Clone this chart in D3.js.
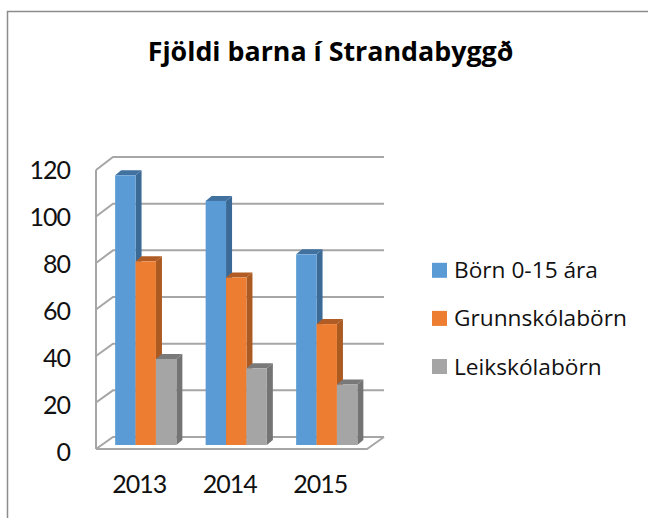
<!DOCTYPE html>
<html><head><meta charset="utf-8">
<script src="https://cdn.jsdelivr.net/npm/d3@7"></script>
<style>html,body{margin:0;padding:0;background:#fff}svg{display:block}text{font-family:Lato,"Open Sans",sans-serif;fill:#111}</style>
</head><body><svg id="c" width="648" height="518"></svg>
<script>
const title = "Fjöldi barna í Strandabyggð";
const years = ["2013","2014","2015"];
const seriesNames = ["Börn 0-15 ára","Grunnskólabörn","Leikskólabörn"];
const born = [116,105,82];
const grunn = [79,72,52];
const leik = [37,33,26];
const yTicks = [0,20,40,60,80,100,120];
const frontColors = ["#5b9bd5","#ed7d31","#a5a5a5"];
const sideColors = ["#3b6a96","#ab5a22","#747474"];
const topColors = ["#41719f","#b05c24","#797979"];

const svg = d3.select("#c");
const series = [born,grunn,leik];
const dx = 17;
const barDx = 6, barDy = 5;
const yFront = d3.scaleLinear().domain([0,120]).range([449,170]);
const yBack = d3.scaleLinear().domain([0,120]).range([437,157]);
const yLabel = d3.scaleLinear().domain([0,120]).range([452,170]);
const yBar = d3.scaleLinear().domain([0,120]).range([445,166]);
const x0 = d3.scaleBand().domain(years).range([100.5,372]);
const barW = 20.4;
const bx = (i,s) => x0(years[i]) + x0.bandwidth()/2 - 1.5*barW + s*barW;
const grid = "#a6a6a6";

svg.append("path").attr("d","M7.5,518V11.5H648").attr("fill","none").attr("stroke","#8c8c8c").attr("stroke-width",1.5);
svg.append("text").attr("x",330.5).attr("y",61).attr("text-anchor","middle")
  .style("font-family","'Open Sans'").attr("font-size",26.8).attr("font-weight",700).style("fill","#000").text(title);

const wallL = 96, backL = wallL+dx, backR = 384, frontR = 367;
const g = svg.append("g").attr("fill","none").attr("stroke",grid).attr("stroke-width",2);
yTicks.forEach(t=>{
  g.append("path").attr("d",`M${wallL},${yFront(t)}L${backL},${yBack(t)}H${backR}`);
});
g.append("path").attr("d",`M${wallL},${yFront(0)}V${yFront(120)}`);
g.append("path").attr("d",`M${wallL},${yFront(0)}H${frontR}L${backR},${yBack(0)}`);

years.forEach((yr,i)=>{
  series.forEach((vals,s)=>{
    const x = bx(i,s), y = yBar(vals[i]), b = yBar(0);
    const bar = svg.append("g");
    bar.append("path").attr("fill",sideColors[s])
      .attr("d",`M${x+barW},${y}l${barDx},${-barDy}V${b-barDy}l${-barDx},${barDy}Z`);
    bar.append("path").attr("fill",topColors[s])
      .attr("d",`M${x},${y}l${barDx},${-barDy}h${barW}l${-barDx},${barDy}Z`);
    bar.append("rect").attr("x",x).attr("y",y).attr("width",barW).attr("height",b-y).attr("fill",frontColors[s]);
  });
});

yTicks.forEach(t=>{
  svg.append("text").attr("x",70).attr("y",yLabel(t)+9).attr("text-anchor","end")
    .attr("font-size",25).attr("letter-spacing",-1).text(t);
});
years.forEach(y=>{
  svg.append("text").attr("x",x0(y)+x0.bandwidth()/2-6.5).attr("y",493).attr("text-anchor","middle")
    .attr("font-size",25).attr("letter-spacing",-1).text(y);
});
const ly = d3.scalePoint().domain(seriesNames).range([270.3,366.5]);
seriesNames.forEach((n,s)=>{
  svg.append("rect").attr("x",432).attr("y",ly(n)-7.5).attr("width",15).attr("height",15).attr("fill",frontColors[s]);
  svg.append("text").attr("x",454).attr("y",ly(n)+8).style("font-family","'Open Sans'").attr("font-size",22.7).text(n);
});
</script></body></html>
